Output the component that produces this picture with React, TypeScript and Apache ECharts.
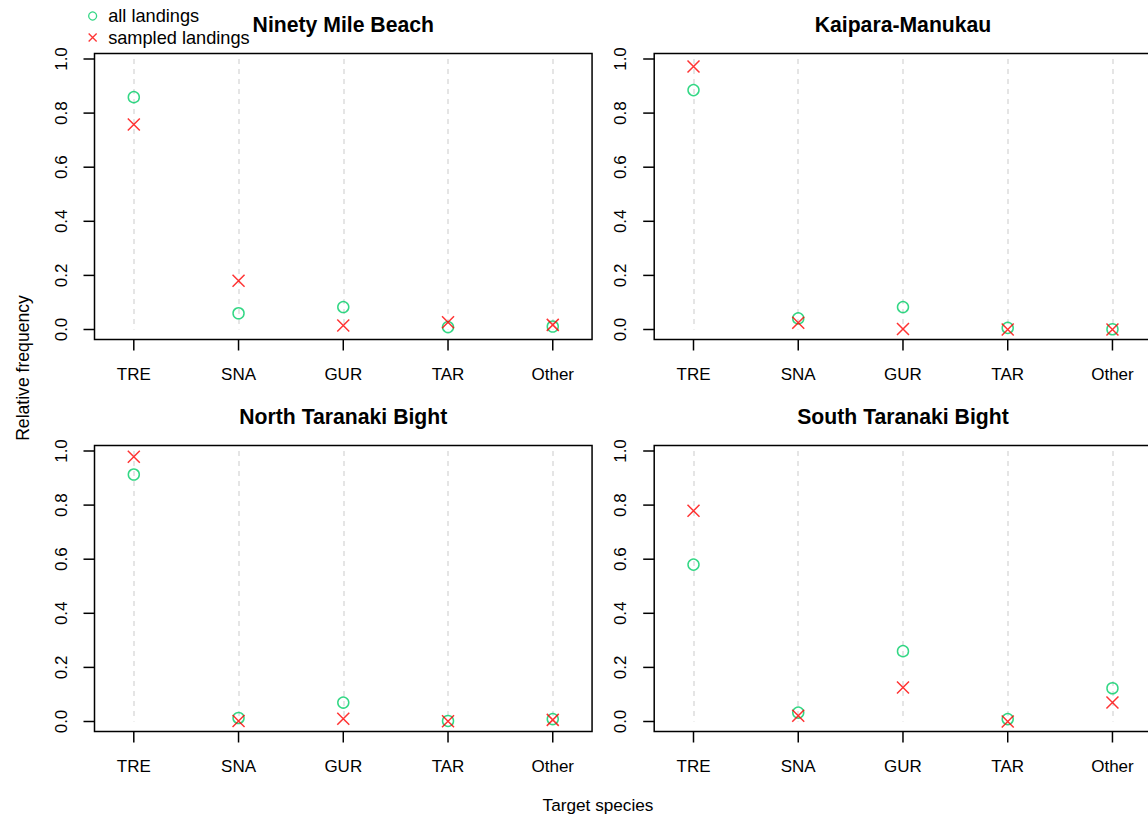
import React, { useEffect, useRef } from 'react';
import * as echarts from 'echarts';

// ---- data ----
const categories = ['TRE', 'SNA', 'GUR', 'TAR', 'Other'];
const panelTitles = ['Ninety Mile Beach', 'Kaipara-Manukau', 'North Taranaki Bight', 'South Taranaki Bight'];
const seriesNames = ['all landings', 'sampled landings'];

const allNinetyMile = [0.859, 0.06, 0.083, 0.009, 0.011];
const sampledNinetyMile = [0.758, 0.18, 0.015, 0.027, 0.017];
const allKaipara = [0.885, 0.041, 0.083, 0.006, 0.001];
const sampledKaipara = [0.972, 0.025, 0.002, 0.0, 0.0];
const allNorthTaranaki = [0.913, 0.013, 0.07, 0.002, 0.009];
const sampledNorthTaranaki = [0.979, 0.002, 0.01, 0.001, 0.006];
const allSouthTaranaki = [0.58, 0.033, 0.26, 0.009, 0.123];
const sampledSouthTaranaki = [0.779, 0.021, 0.126, 0.0, 0.07];

const yMin = 0;
const yMax = 1;
const yStep = 0.2;
const yTickValues = [0, 0.2, 0.4, 0.6, 0.8, 1.0];
const xTickValues = [1, 2, 3, 4, 5];

const xAxisTitle = 'Target species';
const yAxisTitle = 'Relative frequency';

// ---- styling ----
const FONT = "'Liberation Sans', Arial, Helvetica, sans-serif";
const GREEN = '#00CD66';
const RED = '#FF0000';
const CROSS = 'path://M0,0L10,10M0,10L10,0';
const TICK_LEN = 11;

export default function App() {
  const ref = useRef<HTMLDivElement>(null);

  useEffect(() => {
    const chart = echarts.init(ref.current as HTMLDivElement, null, { renderer: 'svg' });

    const panels = [
      { title: panelTitles[0], all: allNinetyMile, sampled: sampledNinetyMile },
      { title: panelTitles[1], all: allKaipara, sampled: sampledKaipara },
      { title: panelTitles[2], all: allNorthTaranaki, sampled: sampledNorthTaranaki },
      { title: panelTitles[3], all: allSouthTaranaki, sampled: sampledSouthTaranaki },
    ];

    const unitX = 104.74;
    const colLeft = [133.8, 693.5];
    const rowTop = [59, 451];
    const plotW = unitX * (categories.length - 1);
    const plotH = 270.5;
    const padL = 39.3;
    const padR = 39.3;
    const padT = 5.5;
    const padB = 10;

    const grids: any[] = [];
    const xAxes: any[] = [];
    const yAxes: any[] = [];
    const series: any[] = [];
    const graphics: any[] = [];

    panels.forEach((p, i) => {
      const col = i % 2;
      const row = Math.floor(i / 2);
      grids.push({
        left: colLeft[col],
        top: rowTop[row],
        width: plotW,
        height: plotH,
        show: true,
        borderWidth: 0,
        backgroundColor: 'transparent',
      });
      xAxes.push({
        type: 'value',
        gridIndex: i,
        min: 1,
        max: categories.length,
        interval: 1,
        position: 'bottom',
        offset: padB,
        axisLine: { show: false, onZero: false },
        splitLine: {
          show: true,
          lineStyle: { color: '#DDDDDD', type: [5, 5], width: 1.5 },
        },
        axisTick: { show: false },
        axisLabel: {
          show: true,
          margin: 26,
          fontSize: 17,
          fontFamily: FONT,
          color: '#000',
          formatter: (v: number) => categories[Math.round(v) - 1] ?? '',
        },
      });
      yAxes.push({
        type: 'value',
        gridIndex: i,
        min: yMin,
        max: yMax,
        interval: yStep,
        position: 'left',
        offset: padL,
        axisLine: { show: false, onZero: false },
        splitLine: { show: false },
        axisTick: { show: false },
        axisLabel: {
          show: true,
          rotate: 90,
          margin: 25,
          fontSize: 17,
          fontFamily: FONT,
          color: '#000',
          formatter: (v: number) => v.toFixed(1),
        },
      });
      series.push({
        type: 'scatter',
        name: seriesNames[0],
        xAxisIndex: i,
        yAxisIndex: i,
        symbol: 'circle',
        symbolSize: 11,
        itemStyle: { color: 'transparent', borderColor: GREEN, borderWidth: 1.5 },
        data: p.all.map((v, j) => [j + 1, v]),
      });
      series.push({
        type: 'scatter',
        name: seriesNames[1],
        xAxisIndex: i,
        yAxisIndex: i,
        symbol: CROSS,
        symbolSize: 12,
        itemStyle: { color: RED, borderColor: RED, borderWidth: 1.5 },
        data: p.sampled.map((v, j) => [j + 1, v]),
      });
      graphics.push({
        type: 'rect',
        silent: true,
        shape: {
          x: colLeft[col] - padL,
          y: rowTop[row] - padT,
          width: plotW + padL + padR,
          height: plotH + padT + padB,
        },
        style: { fill: 'none', stroke: '#000', lineWidth: 1.5 },
      });
      graphics.push({
        type: 'text',
        x: colLeft[col] + plotW / 2,
        y: rowTop[row] - padT - 29,
        style: {
          text: p.title,
          fontSize: 21.2,
          fontWeight: 'bold',
          fontFamily: FONT,
          fill: '#000',
          align: 'center',
          verticalAlign: 'middle',
        },
      });
    });

    graphics.push({
      type: 'text',
      x: 598,
      y: 804.5,
      style: {
        text: xAxisTitle,
        fontSize: 17.2,
        fontFamily: FONT,
        fill: '#000',
        align: 'center',
        verticalAlign: 'middle',
      },
    });
    graphics.push({
      type: 'text',
      x: 23,
      y: 368,
      rotation: Math.PI / 2,
      style: {
        text: yAxisTitle,
        fontSize: 17.6,
        fontFamily: FONT,
        fill: '#000',
        align: 'center',
        verticalAlign: 'middle',
      },
    });

    chart.setOption({
      animation: false,
      grid: grids,
      xAxis: xAxes,
      yAxis: yAxes,
      series,
      graphic: graphics,
      legend: {
        show: true,
        orient: 'vertical',
        left: 88,
        top: 7,
        itemWidth: 21,
        itemHeight: 8,
        itemGap: 3.5,
        padding: 0,
        selectedMode: false,
        textStyle: { fontSize: 18.2, fontFamily: FONT, color: '#000' },
        data: [
          {
            name: seriesNames[0],
            icon: 'circle',
            itemStyle: { color: 'transparent', borderColor: GREEN, borderWidth: 1.3 },
          },
          {
            name: seriesNames[1],
            icon: CROSS,
            itemStyle: { color: RED, borderColor: RED, borderWidth: 1.3 },
          },
        ],
      },
    });

    // axis ticks: positions converted through each panel's own axes
    const tickGraphics: any[] = [];
    panels.forEach((_, i) => {
      xTickValues.forEach((v) => {
        const pt = chart.convertToPixel({ gridIndex: i } as any, [v, yMin]) as number[];
        if (!pt) return;
        tickGraphics.push({
          type: 'line',
          silent: true,
          z: 20,
          shape: { x1: pt[0], y1: pt[1] + padB, x2: pt[0], y2: pt[1] + padB + TICK_LEN },
          style: { stroke: '#000', lineWidth: 1.5 },
        });
      });
      yTickValues.forEach((v) => {
        const pt = chart.convertToPixel({ gridIndex: i } as any, [xTickValues[0], v]) as number[];
        if (!pt) return;
        tickGraphics.push({
          type: 'line',
          silent: true,
          z: 20,
          shape: { x1: pt[0] - padL - TICK_LEN, y1: pt[1], x2: pt[0] - padL, y2: pt[1] },
          style: { stroke: '#000', lineWidth: 1.5 },
        });
      });
    });
    chart.setOption({ graphic: [...graphics, ...tickGraphics] });

    return () => {
      chart.dispose();
    };
  }, []);

  return (
    <div
      ref={ref}
      style={{ position: 'fixed', left: 0, top: 0, width: 1148, height: 818, background: '#fff' }}
    />
  );
}
